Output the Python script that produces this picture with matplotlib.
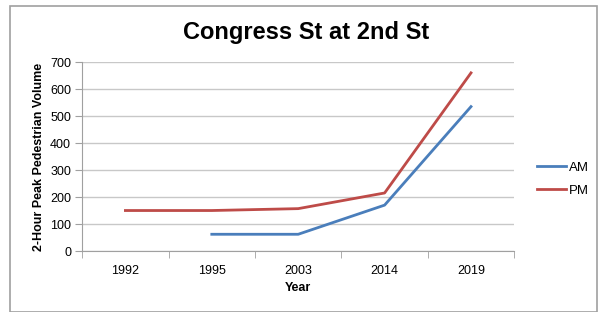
import numpy as np
import matplotlib
matplotlib.use("Agg")
import matplotlib.pyplot as plt
from matplotlib.patches import Rectangle

plt.rcParams['font.family'] = ['Liberation Sans', 'DejaVu Sans']

years = ['1992', '1995', '2003', '2014', '2019']
am = [np.nan, 62, 62, 170, 535]
pm = [150, 150, 157, 215, 660]

fig = plt.figure(figsize=(6, 3.12), dpi=100)
ax = fig.add_axes([0.137, 0.1955, 0.72, 0.6055])

# outer chart frame
fig.patches.append(Rectangle((10/600, 0), 587/600, 1 - 6/312, transform=fig.transFigure,
                             fill=False, edgecolor='#a0a0a0', linewidth=1.2))

x = np.arange(len(years))
ax.plot(x, am, color='#4a7ebb', linewidth=2, label='AM')
ax.plot(x, pm, color='#be4b48', linewidth=2, label='PM')

ax.set_xlim(-0.5, len(years) - 0.5)
ax.set_ylim(0, 700)
ax.set_yticks(range(0, 701, 100))
ax.set_xticks(x)
ax.set_xticklabels(years)
ax.set_xticks(np.arange(-0.5, len(years), 1), minor=True)
ax.tick_params(axis='x', which='major', length=0, pad=10, labelsize=9)
ax.tick_params(axis='x', which='minor', length=5, color='#a0a0a0', direction='out')
ax.tick_params(axis='y', length=5, color='#a0a0a0', labelsize=9, pad=3)

ax.grid(axis='y', color='#c8c8c8', linewidth=1)
ax.set_axisbelow(True)
for s in ['top', 'right']:
    ax.spines[s].set_visible(False)
for s in ['left', 'bottom']:
    ax.spines[s].set_color('#a0a0a0')

ax.set_xlabel('Year', fontweight='bold', fontsize=9, labelpad=4)
ax.set_ylabel('2-Hour Peak Pedestrian Volume', fontweight='bold', fontsize=9, labelpad=4)
fig.text(0.51, 0.895, 'Congress St at 2nd St', ha='center', va='center',
         fontsize=17, fontweight='bold')

ax.legend(loc='center left', bbox_to_anchor=(1.025, 0.38), frameon=False,
          fontsize=9.5, handlelength=2.2, handletextpad=0.2, labelspacing=0.8)

fig.savefig('out.png', dpi=100)
